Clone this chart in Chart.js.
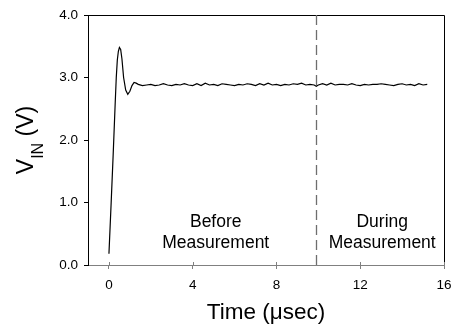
<!DOCTYPE html>
<html>
<head>
<meta charset="utf-8">
<script src="https://cdn.jsdelivr.net/npm/chart.js@4.4.1/dist/chart.umd.min.js"></script>
<style>
  html, body { margin: 0; padding: 0; background: #fff; }
  #wrap { width: 452px; height: 329px; position: relative; }
</style>
</head>
<body>
<div id="wrap"><canvas id="vinChart"></canvas></div>
<script>
// V_IN vs time
const timeUs = [
  0.0, 0.1, 0.2, 0.3, 0.35, 0.4, 0.45, 0.5, 0.56, 0.62, 0.7, 0.8, 0.9, 1.0, 1.1, 1.2, 1.3,
  1.4, 1.6, 1.8, 2.0, 2.2, 2.4, 2.6, 2.8, 3.0, 3.2, 3.4, 3.6, 3.8, 4.0, 4.2, 4.4, 4.6, 4.8,
  5.0, 5.2, 5.4, 5.6, 5.8, 6.0, 6.2, 6.4, 6.6, 6.8, 7.0, 7.2, 7.4, 7.6, 7.8, 8.0, 8.2, 8.4,
  8.6, 8.8, 9.0, 9.2, 9.4, 9.6, 9.8, 9.9, 10.0, 10.2, 10.4, 10.6, 10.8, 11.0, 11.2, 11.4, 11.6,
  11.8, 12.0, 12.2, 12.4, 12.6, 12.8, 13.0, 13.2, 13.4, 13.6, 13.8, 14.0, 14.2, 14.4, 14.6,
  14.8, 15.0, 15.2
];
const vinVolts = [
  0.18, 0.95, 1.75, 2.60, 3.00, 3.28, 3.42, 3.48, 3.45, 3.30, 3.00, 2.80, 2.73, 2.78, 2.87, 2.92, 2.91,
  2.89, 2.87, 2.88, 2.89, 2.87, 2.88, 2.90, 2.88, 2.87, 2.89, 2.88, 2.90, 2.88, 2.87, 2.90, 2.87, 2.91, 2.88,
  2.89, 2.87, 2.90, 2.89, 2.88, 2.87, 2.89, 2.88, 2.90, 2.89, 2.87, 2.90, 2.88, 2.91, 2.88, 2.89, 2.87, 2.89,
  2.88, 2.90, 2.89, 2.91, 2.88, 2.89, 2.88, 2.86, 2.88, 2.90, 2.88, 2.91, 2.88, 2.89, 2.89, 2.88, 2.90,
  2.88, 2.87, 2.89, 2.88, 2.89, 2.89, 2.90, 2.89, 2.88, 2.87, 2.89, 2.90, 2.88, 2.89, 2.87,
  2.90, 2.88, 2.89
];
const xTicks = [0, 4, 8, 12, 16];
const yTicks = [0, 1, 2, 3, 4];

const measureStart = 9.9;
const phaseLabels = [
  { lines: ['Before', 'Measurement'], x: 5.1, y: [0.69, 0.35] },
  { lines: ['During', 'Measurement'], x: 13.05, y: [0.69, 0.35] }
];

const FONT = "'Liberation Sans', Arial, sans-serif";

const extrasPlugin = {
    id: 'extras',
    afterDatasetsDraw(chart) {
        const { ctx, chartArea: a, scales } = chart;
        ctx.save();
        // frame top/right
        ctx.strokeStyle = '#000';
        ctx.lineWidth = 1;
        ctx.beginPath();
        ctx.moveTo(a.left, a.top + 0.5);
        ctx.lineTo(a.right + 0.5, a.top + 0.5);
        ctx.lineTo(a.right + 0.5, a.bottom);
        ctx.stroke();
        // inner part of x ticks
        ctx.strokeStyle = '#808080';
        xTicks.forEach(v => {
            const px = Math.round(scales.x.getPixelForValue(v)) + 0.5;
            ctx.beginPath();
            ctx.moveTo(px, a.bottom);
            ctx.lineTo(px, a.bottom - 3);
            ctx.stroke();
        });
        // dashed divider
        const dx = Math.round(scales.x.getPixelForValue(measureStart)) + 0.5;
        ctx.strokeStyle = '#6e6e6e';
        ctx.lineWidth = 1.3;
        ctx.setLineDash([10, 5]);
        ctx.beginPath();
        ctx.moveTo(dx, a.top);
        ctx.lineTo(dx, a.bottom);
        ctx.stroke();
        ctx.setLineDash([]);
        // phase labels
        ctx.fillStyle = '#000';
        ctx.font = '17.5px ' + FONT;
        ctx.textAlign = 'center';
        ctx.textBaseline = 'middle';
        phaseLabels.forEach(l => {
            l.lines.forEach((t, i) => {
                ctx.fillText(t, scales.x.getPixelForValue(l.x), scales.y.getPixelForValue(l.y[i]));
            });
        });
        // x title
        ctx.font = '22.5px ' + FONT;
        ctx.fillText('Time (\u03BCsec)', 266, 313);
        // y title with subscript
        const big = '23px ' + FONT, small = '16px ' + FONT;
        ctx.font = big;
        const wV = ctx.measureText('V').width;
        const wRest = ctx.measureText(' (V)').width;
        ctx.font = small;
        const wSub = ctx.measureText('IN').width;
        const total = wV + wSub + wRest;
        ctx.translate(33, 140);
        ctx.rotate(-Math.PI / 2);
        ctx.textAlign = 'left';
        ctx.textBaseline = 'alphabetic';
        let x0 = -total / 2;
        ctx.font = big;
        ctx.fillText('V', x0, 0);
        ctx.font = small;
        ctx.fillText('IN', x0 + wV, 10);
        ctx.font = big;
        ctx.fillText(' (V)', x0 + wV + wSub, 0);
        ctx.restore();
    }
};

new Chart(document.getElementById('vinChart').getContext('2d'), {
    type: 'line',
    data: {
        datasets: [{
            data: timeUs.map((t, i) => ({ x: t, y: vinVolts[i] })),
            borderColor: '#000',
            borderWidth: 1.2,
            pointRadius: 0,
            tension: 0,
            fill: false
        }]
    },
    options: {
        responsive: true,
        maintainAspectRatio: false,
        animation: false,
        layout: { padding: { top: 15, right: 8, left: 0, bottom: 0 } },
        plugins: { legend: { display: false }, tooltip: { enabled: false } },
        scales: {
            x: {
                type: 'linear',
                min: -1,
                max: 16,
                afterBuildTicks: axis => { axis.ticks = xTicks.map(v => ({ value: v })); },
                afterFit: axis => { axis.height = 64; axis.paddingLeft = 0; axis.paddingRight = 0; },
                grid: { drawOnChartArea: false, drawTicks: true, tickLength: 4, color: '#808080' },
                border: { color: '#808080', width: 1 },
                ticks: { color: '#000', padding: 8, maxRotation: 0, autoSkip: false, font: { family: FONT, size: 13.5 } }
            },
            y: {
                min: 0,
                max: 4,
                afterBuildTicks: axis => { axis.ticks = yTicks.map(v => ({ value: v })); },
                afterFit: axis => { axis.width = 88; axis.paddingTop = 0; axis.paddingBottom = 0; },
                grid: { drawOnChartArea: false, drawTicks: true, tickLength: 4, color: '#000' },
                border: { color: '#000', width: 1 },
                ticks: { color: '#000', padding: 6, callback: v => v.toFixed(1), font: { family: FONT, size: 13.5 } }
            }
        }
    },
    plugins: [extrasPlugin]
});
</script>
</body>
</html>
